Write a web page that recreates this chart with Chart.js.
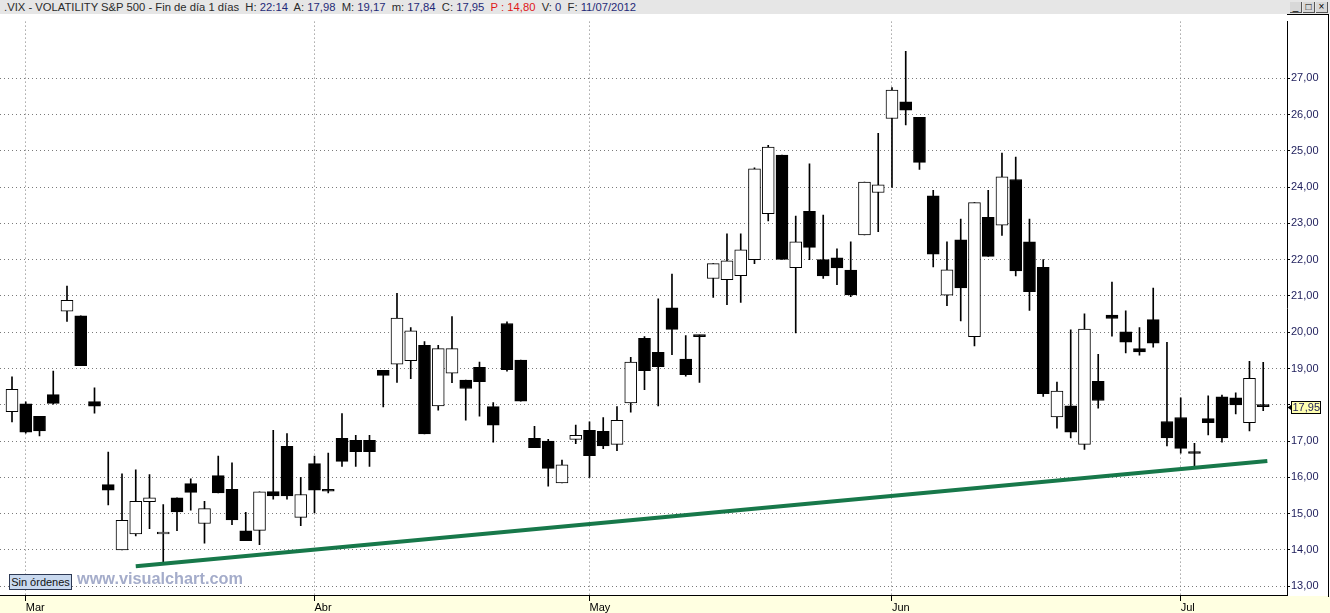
<!DOCTYPE html>
<html>
<head>
<meta charset="utf-8">
<script src="https://cdn.jsdelivr.net/npm/chart.js@4.4.0/dist/chart.umd.min.js"></script>
<style>
html,body{margin:0;padding:0;width:1330px;height:613px;overflow:hidden;background:#fff;font-family:"Liberation Sans",Arial,sans-serif;}
#hdr{position:absolute;left:0;top:0;width:1330px;height:14px;background:#e6e6e6;font-size:11.25px;line-height:14px;white-space:nowrap;color:#2a2a2a;}
#title{position:absolute;left:4px;top:0;}
.v{color:#1f2a78}
.r{color:#e01818}
#btns{position:absolute;left:1290px;top:2px;font-size:10px;line-height:10px;color:#000;}
#btns span{display:inline-block;width:11px;height:10px;background:#d8d8d8;border-right:1px solid #555;border-bottom:1px solid #555;text-align:center;margin-right:1px;}
#xband{position:absolute;left:0;top:596px;width:1330px;height:17px;background:#ffffe1;}
#wrap{position:absolute;left:0;top:14px;width:1330px;height:599px;}
#axbox{position:absolute;left:1287px;top:14px;width:41px;height:582px;border-top:1px solid #000;border-right:1px solid #000;}
#sin{position:absolute;left:9px;top:574px;width:61px;height:14px;background:#c9d9ef;border:1px solid #2e3a55;font-size:11px;line-height:14px;text-align:center;color:#111;}
#wm{position:absolute;left:77px;top:569px;font-size:16.3px;font-weight:bold;color:#a4acca;}
</style>
</head>
<body>
<div id="hdr"><div id="title">.VIX - VOLATILITY S&amp;P 500 - Fin de día 1 días&nbsp; H: <span class="v">22:14</span>&nbsp; A: <span class="v">17,98</span>&nbsp; M: <span class="v">19,17</span>&nbsp; m: <span class="v">17,84</span>&nbsp; C: <span class="v">17,95</span>&nbsp; <span class="r">P : 14,80</span>&nbsp; V: <span class="v">0</span>&nbsp; F: <span class="v">11/07/2012</span></div>
<div id="btns"><span>_</span><span>□</span><span>×</span></div></div>
<div id="xband"></div>
<div id="axbox"></div>
<div id="wrap"><canvas id="c" width="1330" height="599"></canvas></div>
<div id="sin">Sin órdenes</div>
<div id="wm">www.visualchart.com</div>
<script>
// Daily sessions from 29/02/2012 to 11/07/2012 (index = session number)
const opens  = [17.81,18.03,17.68,18.28,20.58,20.45,18.09,15.80,14.00,14.44,15.33,14.44,15.44,15.83,14.73,16.05,15.67,14.53,14.54,15.61,16.86,14.90,
                16.38,15.67,17.08,17.02,17.02,18.95,19.12,19.22,19.64,17.97,18.87,18.68,19.03,17.95,20.24,19.23,17.08,17.00,15.85,17.05,
                17.30,17.27,16.91,18.05,19.83,19.45,20.67,19.26,19.92,21.48,21.45,21.56,22.00,23.27,24.88,21.78,23.33,22.00,22.05,21.71,22.68,23.85,
                25.89,26.35,25.92,23.76,21.02,22.55,19.88,23.17,22.95,24.21,22.49,21.79,17.67,17.97,16.91,18.65,20.47,20.01,19.55,20.35,17.54,
                17.65,16.69,17.62,18.22,18.19,17.51,17.98];
const highs  = [18.77,18.08,17.68,18.93,21.27,20.45,18.47,16.70,16.10,16.21,16.08,15.25,15.44,15.96,15.34,16.59,16.40,15.04,15.60,17.30,17.21,16.00,
                16.59,16.67,17.76,17.16,17.16,18.95,21.07,20.13,19.74,19.64,20.43,18.68,19.18,18.06,20.29,19.23,17.41,17.05,16.48,17.44,
                17.53,17.65,17.95,19.31,19.88,20.92,21.60,19.91,19.92,21.89,22.71,22.71,24.53,25.15,24.88,23.20,24.64,23.23,22.30,22.49,24.14,25.48,
                26.74,27.74,25.92,23.91,22.49,23.12,23.57,23.91,24.94,24.83,23.12,22.00,18.63,20.07,20.51,19.39,21.38,20.59,20.13,21.22,19.72,
                18.19,16.94,18.25,18.27,18.33,19.20,19.17];
const lows   = [17.53,17.22,17.14,18.02,20.30,19.08,17.77,15.24,14.00,14.39,14.59,13.66,14.53,15.10,14.19,15.57,14.70,14.26,14.15,15.40,15.40,14.67,
                15.02,15.57,16.30,16.30,16.30,17.94,18.62,18.72,17.20,17.85,18.61,17.58,17.69,16.97,18.93,18.10,16.82,15.76,15.85,16.93,
                16.00,16.79,16.74,17.80,18.42,17.97,19.38,18.79,18.62,20.96,20.76,20.82,21.89,23.07,22.01,19.98,22.00,21.48,21.31,20.98,22.68,22.77,
                23.99,25.71,24.49,21.80,20.73,20.31,19.62,22.09,22.67,21.55,20.60,18.23,17.36,17.09,16.77,17.91,19.89,19.43,19.37,19.59,16.87,
                16.67,16.29,17.17,16.97,17.75,17.28,17.84];
const closes = [18.43,17.25,17.28,18.04,20.88,19.08,17.96,15.65,14.82,15.34,15.44,14.49,15.05,15.59,15.14,15.57,14.83,14.26,15.60,15.49,15.49,15.53,
                15.65,15.62,16.44,16.71,16.71,18.81,20.39,20.04,17.20,19.55,19.55,18.45,18.64,17.44,18.97,18.10,16.82,16.25,16.35,17.16,
                16.60,16.87,17.57,19.18,18.94,19.05,20.08,18.83,19.88,21.89,21.97,22.27,24.50,25.10,22.01,22.49,22.34,21.55,21.77,21.03,24.14,24.06,
                26.67,26.12,24.68,22.15,21.72,21.22,23.57,22.09,24.28,21.69,21.12,18.31,18.38,17.25,20.09,18.12,20.38,19.73,19.46,19.70,17.09,
                16.80,16.66,17.51,17.09,18.00,18.73,17.95];
const monthTickIdx = [1, 22, 42, 64, 85];
const monthNames   = ['Mar', 'Abr', 'May', 'Jun', 'Jul'];
const priceTicks   = [13,14,15,16,17,18,19,20,21,22,23,24,25,26,27];
const trendIdx     = [9, 91.3];
const trendVal     = [13.55, 16.45];
const lastPrice    = 17.95;

const bodies = opens.map((o, i) => ({x: i, y: [o, closes[i]]}));
const wicks  = lows.map((l, i) => ({x: i, y: [l, highs[i]]}));
const isUp   = closes.map((c, i) => c > opens[i]);
const fmt = v => v.toFixed(2).replace('.', ',');

const priceBox = {
  id: 'priceBox',
  afterDraw(chart) {
    const ctx = chart.ctx, ys = chart.scales.y;
    const y = Math.round(ys.getPixelForValue(lastPrice)) + 0.5;
    const x0 = chart.chartArea.right;
    ctx.save();
    ctx.fillStyle = '#ffffb0';
    ctx.strokeStyle = '#000';
    ctx.lineWidth = 1;
    ctx.fillRect(x0 + 4.5, y - 6, 29, 12);
    ctx.strokeRect(x0 + 4.5, y - 6, 29, 12);
    ctx.fillStyle = '#1c1c5a';
    ctx.font = '11px "Liberation Sans", Arial, sans-serif';
    ctx.textBaseline = 'middle';
    ctx.fillText(fmt(lastPrice), x0 + 5.5, y + 0.5);
    ctx.fillStyle = '#000';
    ctx.beginPath();
    ctx.moveTo(x0 + 0.5, y); ctx.lineTo(x0 + 4, y - 2.5); ctx.lineTo(x0 + 4, y + 2.5); ctx.closePath(); ctx.fill();
    ctx.restore();
  }
};

new Chart(document.getElementById('c'), {
  type: 'bar',
  data: {
    datasets: [
      { type: 'line', data: trendIdx.map((x, i) => ({x: x, y: trendVal[i]})), borderColor: '#17784a', borderWidth: 4, pointRadius: 0, order: 0 },
      { data: bodies, backgroundColor: isUp.map(u => u ? '#ffffff' : '#000000'), borderColor: '#000', borderWidth: 1, borderSkipped: false, barThickness: 12, grouped: false, minBarLength: 2, order: 1 },
      { data: wicks, backgroundColor: '#000', borderWidth: 0, barThickness: 1, grouped: false, order: 2 }
    ]
  },
  options: {
    responsive: false, animation: false, events: [],
    layout: { padding: 0 },
    plugins: { legend: { display: false }, tooltip: { enabled: false } },
    scales: {
      x: {
        type: 'linear', min: -0.873, max: 92.73, offset: false,
        afterBuildTicks: s => { s.ticks = monthTickIdx.map(v => ({value: v})); },
        afterFit: s => { s.height = 18; },
        ticks: { autoSkip: false, maxRotation: 0, align: 'start', padding: 0, color: '#000',
                 font: { size: 11, family: '"Liberation Sans", Arial, sans-serif' },
                 callback: v => monthNames[monthTickIdx.indexOf(v)] || '' },
        grid: { offset: false, color: '#7a7a7a', lineWidth: 1, drawTicks: true, tickLength: 6, tickColor: '#000', tickWidth: 1 },
        border: { display: true, color: '#000', width: 1, dash: [1, 3] }
      },
      y: {
        position: 'right', min: 12.76, max: 28.56,
        afterBuildTicks: s => { s.ticks = priceTicks.map(v => ({value: v})); },
        afterFit: s => { s.width = 43; },
        ticks: { padding: 1, color: '#1c1c5a', font: { size: 11, family: '"Liberation Sans", Arial, sans-serif' },
                 callback: v => (Math.abs(v - lastPrice) < 0.3 ? '' : fmt(v)) },
        grid: { color: '#7a7a7a', lineWidth: 1, drawTicks: true, tickLength: 3, tickColor: '#000', tickWidth: 1 },
        border: { display: true, color: '#000', width: 1, dash: [1, 3] }
      }
    }
  },
  plugins: [priceBox]
});
</script>
</body>
</html>
